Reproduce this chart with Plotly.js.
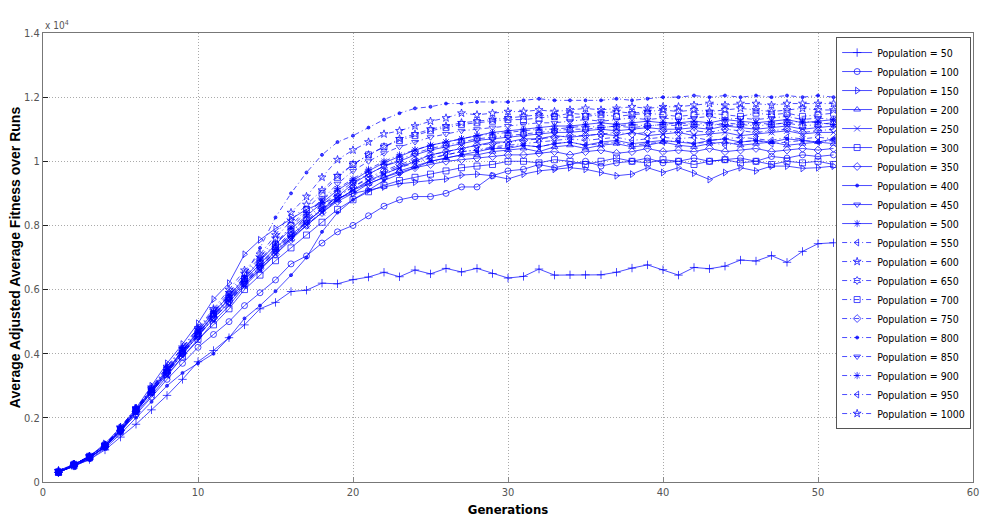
<!DOCTYPE html>
<html>
<head>
<meta charset="utf-8">
<script src="https://cdn.plot.ly/plotly-3.0.1.min.js"></script>
<style>
  html, body { margin: 0; padding: 0; background: #fff; }
  #chart { width: 983px; height: 523px; }
</style>
</head>
<body>
<div id="chart"></div>
<script>
// generations 1..51, values in units of 10^4
const generations = Array.from({ length: 51 }, (_, i) => i + 1);

const populations = [50, 100, 150, 200, 250, 300, 350, 400, 450, 500,
                     550, 600, 650, 700, 750, 800, 850, 900, 950, 1000];

const pop50 = [0.03,0.05,0.07,0.10,0.14,0.18,0.225,0.27,0.32,0.375,
  0.41,0.45,0.49,0.54,0.56,0.594,0.598,0.62,0.618,0.631,
  0.639,0.654,0.64,0.661,0.649,0.666,0.655,0.666,0.65,0.636,
  0.641,0.664,0.645,0.646,0.646,0.646,0.654,0.667,0.677,0.662,
  0.645,0.669,0.665,0.673,0.692,0.689,0.706,0.685,0.719,0.743,0.746];
const pop100 = [0.03,0.055,0.075,0.11,0.16,0.21,0.265,0.32,0.37,0.42,
  0.46,0.50,0.55,0.59,0.63,0.68,0.705,0.745,0.78,0.80,
  0.83,0.86,0.88,0.89,0.89,0.90,0.92,0.92,0.955,0.97,
  0.975,0.99,0.98,0.99,1.00,0.985,0.995,1.00,1.01,0.995,
  1.00,1.01,1.00,1.005,1.01,1.00,1.015,1.01,1.02,1.015,1.02];
const pop150 = [0.03,0.055,0.08,0.12,0.17,0.23,0.30,0.37,0.43,0.495,
  0.57,0.62,0.71,0.755,0.79,0.82,0.85,0.87,0.885,0.90,
  0.91,0.92,0.93,0.935,0.94,0.945,0.957,0.96,0.955,0.945,
  0.96,0.97,0.975,0.98,0.975,0.965,0.955,0.96,0.98,0.965,
  0.98,0.963,0.943,0.965,0.98,0.97,0.985,0.985,0.978,0.98,0.985];
const pop200 = [0.035,0.055,0.08,0.115,0.165,0.225,0.285,0.345,0.41,0.465,
  0.52,0.57,0.63,0.68,0.73,0.77,0.81,0.85,0.88,0.91,
  0.93,0.95,0.97,0.985,1.00,1.01,1.02,1.02,1.03,1.035,
  1.04,1.03,1.045,1.05,1.04,1.05,1.055,1.045,1.05,1.06,
  1.05,1.045,1.055,1.06,1.05,1.055,1.06,1.05,1.055,1.06,1.055];
const pop250 = [0.03,0.05,0.075,0.11,0.155,0.215,0.27,0.33,0.39,0.44,
  0.50,0.55,0.61,0.66,0.71,0.76,0.80,0.84,0.88,0.91,
  0.94,0.96,0.98,1.00,1.02,1.03,1.04,1.05,1.06,1.06,
  1.07,1.07,1.08,1.075,1.08,1.085,1.08,1.09,1.08,1.085,
  1.09,1.08,1.085,1.09,1.08,1.085,1.09,1.095,1.085,1.09,1.09];
const pop300 = [0.03,0.05,0.075,0.11,0.16,0.22,0.28,0.335,0.39,0.445,
  0.49,0.54,0.60,0.645,0.69,0.73,0.77,0.81,0.85,0.88,
  0.905,0.925,0.94,0.95,0.96,0.97,0.98,0.985,0.99,1.00,
  1.00,0.995,1.005,1.00,0.99,1.00,1.01,1.00,0.995,1.005,
  1.00,0.99,1.00,1.005,0.995,1.00,0.99,1.00,0.995,1.00,0.99];
const pop350 = [0.03,0.055,0.075,0.11,0.16,0.22,0.28,0.34,0.40,0.455,
  0.51,0.56,0.615,0.665,0.71,0.755,0.80,0.84,0.875,0.90,
  0.93,0.95,0.965,0.98,0.99,1.00,1.005,1.01,1.015,1.02,
  1.02,1.025,1.03,1.02,1.03,1.035,1.025,1.03,1.04,1.03,
  1.035,1.03,1.04,1.03,1.035,1.04,1.03,1.035,1.04,1.035,1.04];
const pop400 = [0.03,0.05,0.07,0.105,0.15,0.20,0.25,0.30,0.34,0.37,
  0.40,0.45,0.51,0.55,0.595,0.645,0.70,0.78,0.84,0.88,
  0.91,0.94,0.96,0.98,1.00,1.01,1.02,1.03,1.04,1.04,
  1.05,1.045,1.055,1.06,1.05,1.06,1.065,1.055,1.06,1.065,
  1.06,1.055,1.065,1.07,1.06,1.065,1.06,1.07,1.065,1.06,1.07];
const pop450 = [0.03,0.05,0.075,0.11,0.16,0.22,0.285,0.345,0.405,0.46,
  0.52,0.57,0.62,0.67,0.72,0.76,0.81,0.85,0.89,0.93,
  0.96,0.985,1.00,1.02,1.035,1.045,1.055,1.065,1.07,1.075,
  1.08,1.085,1.09,1.09,1.095,1.10,1.095,1.10,1.105,1.10,
  1.10,1.105,1.10,1.11,1.105,1.10,1.105,1.11,1.10,1.105,1.11];
const pop500 = [0.035,0.055,0.08,0.115,0.165,0.225,0.29,0.35,0.41,0.47,
  0.53,0.58,0.635,0.69,0.74,0.79,0.83,0.87,0.91,0.94,
  0.97,0.995,1.015,1.035,1.05,1.06,1.07,1.08,1.09,1.095,
  1.10,1.105,1.11,1.11,1.115,1.12,1.115,1.12,1.125,1.12,
  1.12,1.125,1.12,1.13,1.125,1.12,1.125,1.13,1.12,1.125,1.13];
const pop550 = [0.03,0.05,0.075,0.11,0.16,0.22,0.28,0.34,0.40,0.455,
  0.51,0.56,0.62,0.67,0.72,0.765,0.81,0.85,0.89,0.92,
  0.945,0.965,0.985,1.00,1.01,1.02,1.03,1.035,1.04,1.045,
  1.05,1.045,1.055,1.06,1.05,1.055,1.06,1.05,1.055,1.06,
  1.065,1.055,1.06,1.05,1.06,1.065,1.055,1.06,1.065,1.06,1.065];
const pop600 = [0.035,0.055,0.08,0.115,0.17,0.23,0.295,0.36,0.42,0.48,
  0.54,0.60,0.66,0.71,0.77,0.84,0.89,0.95,1.005,1.035,
  1.06,1.085,1.095,1.11,1.125,1.135,1.15,1.145,1.15,1.155,
  1.155,1.16,1.155,1.16,1.165,1.16,1.165,1.17,1.165,1.17,
  1.17,1.175,1.18,1.175,1.18,1.18,1.175,1.18,1.18,1.18,1.18];
const pop650 = [0.03,0.055,0.08,0.115,0.165,0.225,0.285,0.345,0.405,0.46,
  0.52,0.575,0.63,0.68,0.73,0.78,0.82,0.865,0.90,0.935,
  0.96,0.985,1.005,1.025,1.04,1.05,1.06,1.07,1.075,1.08,
  1.085,1.09,1.095,1.10,1.10,1.105,1.11,1.105,1.11,1.115,
  1.11,1.115,1.11,1.12,1.115,1.11,1.115,1.12,1.11,1.115,1.12];
const pop700 = [0.03,0.055,0.08,0.115,0.165,0.225,0.29,0.35,0.41,0.465,
  0.525,0.58,0.635,0.69,0.74,0.80,0.85,0.90,0.95,0.99,
  1.02,1.045,1.065,1.08,1.095,1.105,1.115,1.12,1.125,1.13,
  1.13,1.135,1.14,1.135,1.14,1.145,1.14,1.145,1.15,1.145,
  1.14,1.145,1.15,1.145,1.14,1.15,1.145,1.15,1.14,1.145,1.15];
const pop750 = [0.03,0.05,0.075,0.11,0.16,0.22,0.28,0.34,0.40,0.455,
  0.515,0.565,0.62,0.67,0.72,0.77,0.815,0.855,0.89,0.92,
  0.95,0.97,0.99,1.005,1.02,1.03,1.04,1.05,1.055,1.06,
  1.065,1.07,1.075,1.08,1.08,1.085,1.09,1.085,1.09,1.095,
  1.09,1.095,1.09,1.10,1.095,1.09,1.095,1.10,1.09,1.095,1.10];
const pop800 = [0.035,0.055,0.08,0.115,0.17,0.23,0.29,0.36,0.42,0.48,
  0.53,0.58,0.64,0.73,0.825,0.90,0.965,1.02,1.06,1.08,
  1.105,1.13,1.15,1.165,1.17,1.18,1.18,1.185,1.185,1.185,
  1.19,1.195,1.19,1.19,1.19,1.19,1.195,1.19,1.195,1.20,
  1.20,1.205,1.20,1.205,1.20,1.205,1.20,1.205,1.20,1.205,1.20];
const pop850 = [0.03,0.055,0.08,0.115,0.165,0.225,0.285,0.345,0.405,0.46,
  0.52,0.57,0.625,0.675,0.725,0.775,0.83,0.88,0.93,0.97,
  1.00,1.025,1.045,1.06,1.075,1.085,1.095,1.10,1.105,1.11,
  1.115,1.12,1.12,1.125,1.13,1.125,1.13,1.135,1.13,1.135,
  1.13,1.135,1.14,1.13,1.135,1.13,1.135,1.14,1.13,1.135,1.13];
const pop900 = [0.035,0.055,0.08,0.115,0.165,0.225,0.29,0.35,0.41,0.47,
  0.53,0.585,0.64,0.695,0.745,0.795,0.84,0.88,0.915,0.945,
  0.975,1.00,1.02,1.035,1.05,1.06,1.07,1.08,1.085,1.09,
  1.095,1.10,1.10,1.105,1.11,1.105,1.11,1.115,1.11,1.115,
  1.12,1.115,1.12,1.11,1.115,1.12,1.115,1.12,1.125,1.12,1.115];
const pop950 = [0.03,0.05,0.075,0.11,0.16,0.22,0.28,0.34,0.40,0.455,
  0.51,0.56,0.615,0.665,0.715,0.76,0.80,0.845,0.88,0.91,
  0.935,0.96,0.98,0.995,1.01,1.02,1.03,1.035,1.045,1.05,
  1.055,1.06,1.065,1.07,1.065,1.07,1.075,1.065,1.07,1.075,
  1.07,1.075,1.065,1.07,1.075,1.07,1.065,1.075,1.07,1.075,1.07];
const pop1000 = [0.035,0.055,0.08,0.115,0.17,0.23,0.29,0.355,0.415,0.475,
  0.535,0.59,0.65,0.70,0.76,0.815,0.865,0.91,0.955,0.99,
  1.02,1.045,1.07,1.085,1.10,1.11,1.12,1.125,1.13,1.135,
  1.14,1.145,1.14,1.15,1.145,1.15,1.155,1.15,1.155,1.16,
  1.155,1.16,1.155,1.16,1.165,1.16,1.155,1.16,1.165,1.16,1.16];

const seriesValues = [pop50, pop100, pop150, pop200, pop250, pop300, pop350, pop400, pop450, pop500,
                      pop550, pop600, pop650, pop700, pop750, pop800, pop850, pop900, pop950, pop1000];

// matlab style markers: + o > ^ x s d . v * < p h s d . v * < p
const markerSymbols = ['cross-thin-open', 'circle-open', 'triangle-right-open', 'triangle-up-open',
  'x-thin-open', 'square-open', 'diamond-open', 'circle', 'triangle-down-open', 'asterisk-open',
  'triangle-left-open', 'star-open', 'hexagram-open', 'square-open', 'diamond-open', 'circle',
  'triangle-down-open', 'asterisk-open', 'triangle-left-open', 'star-open'];

const blue = 'rgba(0,0,255,0.7)';
const narrow = 'DejaVu Sans Condensed, Liberation Sans Narrow, Liberation Sans, Arial, sans-serif';

const traces = populations.map((p, i) => {
  const dot = markerSymbols[i] === 'circle';
  return {
    x: generations,
    y: seriesValues[i],
    name: 'Population = ' + p,
    type: 'scatter',
    mode: 'lines+markers',
    line: { color: blue, width: 1, dash: i < 10 ? 'solid' : '5px,3px,1px,3px' },
    marker: {
      symbol: markerSymbols[i],
      size: dot ? 3 : 6,
      color: blue,
      line: { color: blue, width: 1 }
    }
  };
});

const tickFont = { family: narrow, size: 11, color: '#555' };

const layout = {
  width: 983,
  height: 523,
  margin: { l: 43, r: 10, t: 33, b: 41 },
  paper_bgcolor: '#fff',
  plot_bgcolor: '#fff',
  showlegend: true,
  legend: {
    x: 0.998, y: 0.991, xanchor: 'right', yanchor: 'top',
    bgcolor: '#fff', bordercolor: '#555', borderwidth: 1,
    font: { family: narrow, size: 10.5, color: '#000' },
    itemwidth: 30,
    tracegroupgap: 0
  },
  xaxis: {
    range: [0, 60],
    tickvals: [0, 10, 20, 30, 40, 50, 60],
    ticks: 'inside', ticklen: 5, tickcolor: '#888',
    tickfont: tickFont,
    showgrid: true, gridcolor: '#aaa', griddash: '1px,2px', gridwidth: 1,
    showline: true, linecolor: '#777', linewidth: 1, mirror: true,
    zeroline: false,
    title: { text: '<b>Generations</b>', font: { family: narrow, size: 13, color: '#000' }, standoff: 6 }
  },
  yaxis: {
    range: [0, 1.4],
    tickvals: [0, 0.2, 0.4, 0.6, 0.8, 1, 1.2, 1.4],
    ticktext: ['0', '0.2', '0.4', '0.6', '0.8', '1', '1.2', '1.4'],
    ticks: 'inside', ticklen: 5, tickcolor: '#222',
    tickfont: tickFont,
    showgrid: true, gridcolor: '#aaa', griddash: '1px,2px', gridwidth: 1,
    showline: true, linecolor: '#777', linewidth: 1, mirror: true,
    zeroline: false,
    title: { text: '<b>Average Adjusted Average Fitness over Runs</b>',
             font: { family: 'Liberation Sans, Arial, sans-serif', size: 14, color: '#000' }, standoff: 0 }
  },
  annotations: [{
    xref: 'paper', yref: 'paper', x: 0, y: 1, xanchor: 'left', yanchor: 'bottom',
    text: 'x 10<sup>4</sup>', showarrow: false,
    font: { family: narrow, size: 10, color: '#555' }
  }]
};

Plotly.newPlot('chart', traces, layout, { displayModeBar: false, staticPlot: true });
</script>
</body>
</html>
